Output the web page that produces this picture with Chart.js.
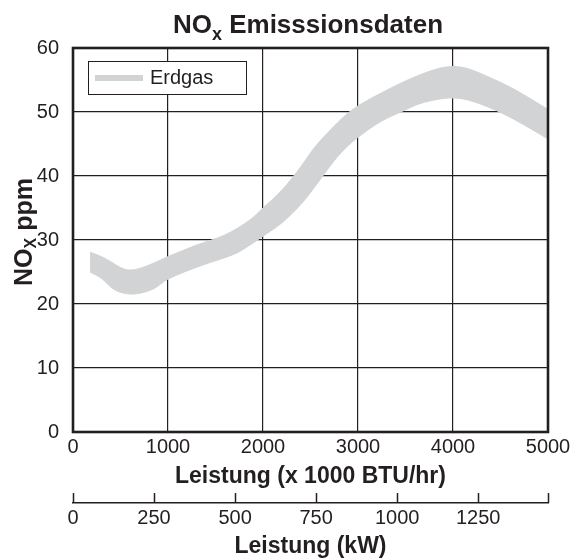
<!DOCTYPE html>
<html>
<head>
<meta charset="utf-8">
<script src="https://cdn.jsdelivr.net/npm/chart.js@4/dist/chart.umd.min.js"></script>
<style>
html,body{margin:0;padding:0;background:#fff;}
#wrap{position:relative;width:574px;height:560px;}
</style>
</head>
<body>
<div id="wrap"><canvas id="c" width="574" height="560"></canvas></div>
<script>
// ---- texts ----
const titleMain = 'NO';
const titleSub = 'x';
const titleRest = ' Emisssionsdaten';
const yTitleMain = 'NO';
const yTitleSub = 'X';
const yTitleRest = ' ppm';
const xTitle = 'Leistung (x 1000 BTU/hr)';
const x2Title = 'Leistung (kW)';
const seriesLabel = 'Erdgas';

// ---- tick values ----
const yTicks = [0, 10, 20, 30, 40, 50, 60];
const xTicks = [0, 1000, 2000, 3000, 4000, 5000];
const kwTicks = [0, 250, 500, 750, 1000, 1250];
const kBtuPerKw = 3.41214;

// ---- band data (x = 1000 BTU/hr, y = ppm) ----
const upperX = [180, 300, 400, 500, 600, 750, 1000, 1300, 1600, 1850, 2000, 2200, 2400, 2550, 2750, 2900, 3050, 3250, 3450, 3650, 3850, 4000, 4150, 4400, 4650, 5000];
const upperY = [28.1, 27.4, 26.6, 25.7, 25.3, 25.8, 27.4, 29.2, 30.8, 33.0, 35.0, 37.8, 41.5, 44.6, 47.8, 49.9, 51.4, 53.0, 54.5, 55.8, 56.8, 57.1, 56.8, 55.3, 53.5, 50.4];
const lowerX = [180, 300, 420, 530, 670, 850, 1000, 1350, 1700, 1850, 2000, 2200, 2400, 2550, 2750, 2900, 3050, 3250, 3450, 3650, 3850, 4000, 4150, 4400, 4650, 5000];
const lowerY = [25.0, 24.0, 22.4, 21.7, 21.6, 22.4, 23.9, 26.0, 27.8, 29.1, 30.6, 32.7, 35.6, 38.4, 42.4, 44.8, 46.6, 48.6, 50.0, 51.3, 52.0, 52.2, 51.9, 50.6, 48.8, 45.8];

const INK = '#231f20';
const BAND = '#d1d3d4';
const FONT = "'Liberation Sans', Arial, Helvetica, sans-serif";

const toPts = (xs, ys) => xs.map((x, i) => ({x: x, y: ys[i]}));
const plain = v => String(Math.round(v));

const decor = {
  id: 'decor',
  afterDraw(chart) {
    const {ctx, chartArea: a, scales} = chart;
    ctx.save();
    // frame
    ctx.strokeStyle = INK;
    ctx.lineWidth = 2.6;
    ctx.strokeRect(a.left, a.top, a.right - a.left, a.bottom - a.top);

    // kW axis tick marks (pointing up)
    const x2 = scales.x2;
    ctx.lineWidth = 1.5;
    kwTicks.concat([x2.max]).forEach(v => {
      const px = Math.round(x2.getPixelForValue(v)) + 0.5;
      ctx.beginPath();
      ctx.moveTo(px, x2.top);
      ctx.lineTo(px, x2.top - 10);
      ctx.stroke();
    });

    // legend
    const lx = 88.5, ly = 61.5, lw = 158, lh = 33;
    ctx.fillStyle = '#fff';
    ctx.fillRect(lx, ly, lw, lh);
    ctx.lineWidth = 1;
    ctx.strokeStyle = INK;
    ctx.strokeRect(lx, ly, lw, lh);
    ctx.strokeStyle = BAND;
    ctx.lineWidth = 6;
    ctx.beginPath();
    ctx.moveTo(95, 78);
    ctx.lineTo(143, 78);
    ctx.stroke();
    ctx.fillStyle = INK;
    ctx.font = '20px ' + FONT;
    ctx.textAlign = 'left';
    ctx.textBaseline = 'middle';
    ctx.fillText(chart.data.datasets[0].label, 150, 78);

    // main title with subscript
    ctx.textBaseline = 'alphabetic';
    const fBig = 'bold 26px ' + FONT, fSub = 'bold 18px ' + FONT;
    ctx.font = fBig; const w1 = ctx.measureText(titleMain).width; const w3 = ctx.measureText(titleRest).width;
    ctx.font = fSub; const w2 = ctx.measureText(titleSub).width;
    let tx = 308 - (w1 + w2 + w3) / 2;
    const ty = 33;
    ctx.font = fBig; ctx.fillText(titleMain, tx, ty); tx += w1;
    ctx.font = fSub; ctx.fillText(titleSub, tx, ty + 7); tx += w2;
    ctx.font = fBig; ctx.fillText(titleRest, tx, ty);

    // y axis title (rotated) with subscript
    ctx.save();
    ctx.translate(32, 232);
    ctx.rotate(-Math.PI / 2);
    const gBig = 'bold 25px ' + FONT, gSub = 'bold 16px ' + FONT;
    ctx.font = gBig; const v1 = ctx.measureText(yTitleMain).width; const v3 = ctx.measureText(yTitleRest).width;
    ctx.font = gSub; const v2 = ctx.measureText(yTitleSub).width;
    let sx = -(v1 + v2 + v3) / 2;
    ctx.font = gBig; ctx.fillText(yTitleMain, sx, 0); sx += v1;
    ctx.font = gSub; ctx.fillText(yTitleSub, sx, 4); sx += v2;
    ctx.font = gBig; ctx.fillText(yTitleRest, sx, 0);
    ctx.restore();

    ctx.restore();
  }
};

new Chart(document.getElementById('c'), {
  type: 'line',
  data: {
    datasets: [
      {
        label: seriesLabel,
        data: toPts(upperX, upperY),
        borderColor: BAND,
        borderWidth: 1,
        backgroundColor: BAND,
        pointRadius: 0,
        tension: 0.35,
        fill: '+1'
      },
      {
        label: seriesLabel + ' (untere Grenze)',
        data: toPts(lowerX, lowerY),
        borderColor: BAND,
        borderWidth: 1,
        backgroundColor: BAND,
        pointRadius: 0,
        tension: 0.35,
        fill: false
      }
    ]
  },
  options: {
    responsive: false,
    animation: false,
    devicePixelRatio: 1,
    layout: {padding: {top: 48, right: 26, left: 0, bottom: 0}},
    plugins: {legend: {display: false}, title: {display: false}, tooltip: {enabled: false}},
    scales: {
      x: {
        type: 'linear', position: 'bottom', weight: 0, z: 1,
        min: 0, max: 5000,
        afterBuildTicks: s => { s.ticks = xTicks.map(v => ({value: v})); },
        grid: {color: INK, lineWidth: 1.2, drawTicks: false},
        border: {display: false},
        ticks: {color: INK, font: {family: FONT, size: 20}, padding: 3, maxRotation: 0, autoSkip: false, callback: plain},
        title: {display: true, text: xTitle, color: INK, font: {family: FONT, size: 23, weight: 'bold'}, padding: {top: 0, bottom: 13}},
        afterFit: s => { s.height = 71; }
      },
      x2: {
        type: 'linear', position: 'bottom', weight: 1,
        min: 0, max: 5000 / kBtuPerKw,
        afterBuildTicks: s => { s.ticks = kwTicks.map(v => ({value: v})); },
        grid: {drawOnChartArea: false, drawTicks: false, color: INK},
        border: {display: true, color: INK, width: 1.5},
        ticks: {color: INK, font: {family: FONT, size: 20}, padding: 3, maxRotation: 0, autoSkip: false, callback: plain},
        title: {display: true, text: x2Title, color: INK, font: {family: FONT, size: 23, weight: 'bold'}, padding: {top: 0, bottom: 0}},
        afterFit: s => { s.height = 57; }
      },
      y: {
        type: 'linear', position: 'left', z: 1,
        min: 0, max: 60,
        afterBuildTicks: s => { s.ticks = yTicks.map(v => ({value: v})); },
        grid: {color: INK, lineWidth: 1.2, drawTicks: false},
        border: {display: false},
        ticks: {color: INK, font: {family: FONT, size: 20}, padding: 14, callback: plain},
        afterFit: s => { s.width = 73; }
      }
    }
  },
  plugins: [decor]
});
</script>
</body>
</html>
